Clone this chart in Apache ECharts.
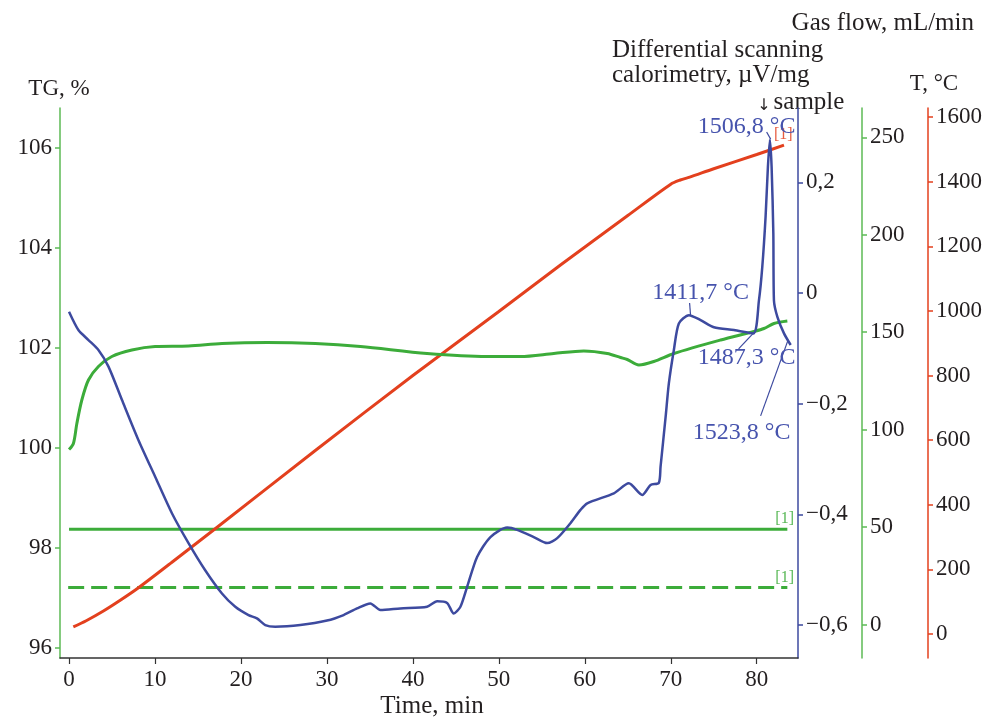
<!DOCTYPE html>
<html><head><meta charset="utf-8">
<script src="https://cdn.jsdelivr.net/npm/echarts@6/dist/echarts.min.js"></script>
<style>html,body{margin:0;padding:0;background:#fff}#c{width:1003px;height:719px}</style>
</head><body><div id="c"></div>
<script>
// ---------- DATA ----------
const timeTicks = [0, 10, 20, 30, 40, 50, 60, 70, 80];
const tgTicks = [96, 98, 100, 102, 104, 106];
const dscTicks = [-0.6, -0.4, -0.2, 0, 0.2];
const gasTicks = [0, 50, 100, 150, 200, 250];
const tempTicks = [0, 200, 400, 600, 800, 1000, 1200, 1400, 1600];

// TG, %
const tgTime = [0, 0.51, 0.91, 1.49, 2.26, 3.42, 4.98, 7.31, 10.02, 13.9, 17.79, 23.03, 28.65, 33.9, 41.65, 48.64, 52.51, 56.39, 59.88, 62.61, 64.16, 64.94, 66.29, 68.03, 70.36, 75.8, 79.67, 80.84, 82.0, 83.56];
const tgValue = [99.96, 100.08, 100.48, 100.95, 101.35, 101.62, 101.82, 101.95, 102.02, 102.03, 102.08, 102.1, 102.08, 102.02, 101.88, 101.82, 101.82, 101.88, 101.93, 101.88, 101.80, 101.76, 101.65, 101.72, 101.88, 102.15, 102.32, 102.38, 102.48, 102.53];

// DSC, µV/mg
const dscTime = [0, 1.09, 2.26, 3.42, 4.59, 6.15, 8.08, 10.02, 11.97, 13.9, 15.84, 17.79, 19.34, 20.88, 21.86, 22.83, 23.99, 26.9, 30.01, 31.94, 33.5, 35.05, 36.22, 38.54, 41.65, 42.82, 43.98, 44.75, 45.53, 46.31, 47.47, 49.02, 50.97, 52.13, 54.06, 55.62, 56.79, 58.33, 59.5, 60.28, 63.38, 65.12, 66.68, 67.65, 68.61, 68.81, 69.4, 69.78, 70.36, 70.94, 72.11, 73.47, 75.02, 77.35, 79.6, 80.26, 80.65, 81.03, 81.3, 81.53, 81.73, 81.93, 82.0, 82.4, 83.17, 83.95];
const dscValue = [-0.034, -0.067, -0.085, -0.103, -0.133, -0.193, -0.266, -0.332, -0.398, -0.452, -0.501, -0.543, -0.567, -0.582, -0.588, -0.600, -0.603, -0.600, -0.592, -0.582, -0.570, -0.561, -0.573, -0.570, -0.567, -0.557, -0.560, -0.579, -0.567, -0.531, -0.477, -0.441, -0.424, -0.428, -0.441, -0.452, -0.443, -0.416, -0.392, -0.380, -0.362, -0.344, -0.365, -0.347, -0.343, -0.314, -0.224, -0.163, -0.103, -0.055, -0.040, -0.049, -0.062, -0.067, -0.073, -0.013, 0.048, 0.138, 0.228, 0.277, 0.228, 0.108, -0.013, -0.043, -0.073, -0.094];

// Temperature, °C
const tempTime = [0.5, 2, 4, 6, 8.08, 11.97, 14.3, 16.93, 28.65, 40, 50, 57.17, 65, 70, 71.1, 72.2, 75, 80, 83.17];
const tempValue = [22, 41, 71, 105, 143, 222, 270, 324, 568, 800, 998, 1142, 1295, 1392, 1405, 1414, 1440, 1484, 1513];

// Gas flow, mL/min (two set-point lines)
const gasSolidTime = [0, 83.56];
const gasSolidValue = [48.9, 48.9];
const gasDashTime = [-0.1, 83.56];
const gasDashValue = [19.0, 19.0];

// Peak annotations (time, DSC) and leader lines
const peakLabels = ['1506,8 °C', '1411,7 °C', '1487,3 °C', '1523,8 °C'];
const peakLabelTime = [78.82, 73.47, 78.82, 78.24];
const peakLabelDsc = [0.300, 0.0, -0.117, -0.253];
const leaderFrom = [[81.15, 0.291], [72.19, -0.018], [79.64, -0.072], [83.6, -0.087]];
const leaderTo = [[81.62, 0.278], [72.3, -0.040], [77.89, -0.101], [80.45, -0.222]];

// ---------- CHART ----------
const FONT = '"Liberation Serif", "DejaVu Serif", serif';
const GREEN = '#3cac3a', GREEN_AX = '#5cba55', BLUE = '#3d4a9f', BLUE_TXT = '#4653ad', RED = '#e3401e', INK = '#231f20';
const zip = (a, b) => a.map((x, i) => [x, b[i]]);
const fmtDsc = v => Math.abs(v) < 1e-9 ? '0' : (v < 0 ? '\u2212' : '') + Math.abs(v).toFixed(1).replace('.', ',');
const fmtPlain = v => String(Math.round(v));

function yAx(opts) {
  return Object.assign({
    type: 'value', splitLine: { show: false },
    axisLine: { show: true, onZero: false, lineStyle: { color: opts.color, width: 1.5 } },
    axisTick: { show: true, length: 5, lineStyle: { color: opts.color, width: 1.5 }, customValues: opts.ticks },
    axisLabel: { color: INK, fontFamily: FONT, fontSize: 23, margin: 8, customValues: opts.ticks, formatter: opts.fmt || fmtPlain }
  }, opts.extra);
}
const endLab = (color, off) => ({ show: true, formatter: '[1]', distance: 0, offset: off, color: color, fontFamily: FONT, fontSize: 16, opacity: 0.85 });

const chart = echarts.init(document.getElementById('c'), null, { renderer: 'canvas' });
const option = {
  animation: false,
  backgroundColor: '#fff',
  grid: { left: 60, right: 205, top: 108, bottom: 61, containLabel: false },
  xAxis: {
    type: 'value', min: -1.05, max: 84.8, splitLine: { show: false },
    axisLine: { onZero: false, lineStyle: { color: '#333', width: 1.5 } },
    axisTick: { length: 6, lineStyle: { color: '#333', width: 1.2 }, customValues: timeTicks },
    axisLabel: { color: INK, fontFamily: FONT, fontSize: 23, margin: 10, customValues: timeTicks, formatter: fmtPlain }
  },
  yAxis: [
    yAx({ color: GREEN_AX, ticks: tgTicks, extra: { position: 'left', min: 95.79, max: 106.79 } }),
    yAx({ color: BLUE, ticks: dscTicks, fmt: fmtDsc, extra: { position: 'right', offset: 0, min: -0.6596, max: 0.3343 } }),
    yAx({ color: GREEN_AX, ticks: gasTicks, extra: { position: 'right', offset: 64, min: -17.2, max: 265.1 } }),
    yAx({ color: RED, ticks: tempTicks, extra: { position: 'right', offset: 130, min: -74.3, max: 1627.9 } })
  ],
  series: [
    {
      name: 'T', type: 'line', yAxisIndex: 3, showSymbol: false, smooth: 0.3, z: 3,
      lineStyle: { color: RED, width: 3 },
      endLabel: endLab(RED, [-10, -10]),
      data: zip(tempTime, tempValue)
    },
    {
      name: 'Gas solid', type: 'line', yAxisIndex: 2, showSymbol: false, z: 2,
      lineStyle: { color: GREEN, width: 3 },
      endLabel: endLab(GREEN, [-12, -10]),
      data: zip(gasSolidTime, gasSolidValue)
    },
    {
      name: 'Gas dashed', type: 'line', yAxisIndex: 2, showSymbol: false, z: 2,
      lineStyle: { color: GREEN, width: 3, type: [16, 7] },
      endLabel: endLab(GREEN, [-12, -10]),
      data: zip(gasDashTime, gasDashValue)
    },
    {
      name: 'TG', type: 'line', yAxisIndex: 0, showSymbol: false, smooth: 0.3, z: 4,
      lineStyle: { color: GREEN, width: 3 },
      data: zip(tgTime, tgValue)
    },
    {
      name: 'DSC', type: 'line', yAxisIndex: 1, showSymbol: false, smooth: 0.25, z: 5,
      lineStyle: { color: BLUE, width: 2.5 },
      data: zip(dscTime, dscValue),
      markLine: {
        silent: true, symbol: ['none', 'none'], animation: false,
        lineStyle: { color: BLUE, width: 1.2, type: 'solid' }, label: { show: false },
        data: leaderFrom.map((f, i) => [{ coord: f }, { coord: leaderTo[i] }])
      },
      markPoint: {
        silent: true, symbol: 'circle', symbolSize: 0, animation: false,
        label: { show: true, position: 'inside', color: BLUE_TXT, fontFamily: FONT, fontSize: 24, formatter: p => p.name },
        data: peakLabels.map((n, i) => ({ name: n, coord: [peakLabelTime[i], peakLabelDsc[i]] }))
      }
    }
  ],
  graphic: [
    { type: 'text', x: 59, y: 89, style: { text: 'TG, %', font: '23px ' + FONT, fill: INK, textAlign: 'center', textVerticalAlign: 'middle' } },
    { type: 'text', x: 432, y: 706, style: { text: 'Time, min', font: '25px ' + FONT, fill: INK, textAlign: 'center', textVerticalAlign: 'middle' } },
    { type: 'text', x: 612, y: 50, style: { text: 'Differential scanning', font: '25px ' + FONT, fill: INK, textAlign: 'left', textVerticalAlign: 'middle' } },
    { type: 'text', x: 612, y: 75, style: { text: 'calorimetry, \u00b5V/mg', font: '25px ' + FONT, fill: INK, textAlign: 'left', textVerticalAlign: 'middle' } },
    { type: 'text', x: 974, y: 23, style: { text: 'Gas flow, mL/min', font: '25px ' + FONT, fill: INK, textAlign: 'right', textVerticalAlign: 'middle' } },
    { type: 'text', x: 934, y: 84, style: { text: 'T, \u00b0C', font: '23px ' + FONT, fill: INK, textAlign: 'center', textVerticalAlign: 'middle' } },
    { type: 'text', x: 809, y: 102, style: { text: 'sample', font: '25px ' + FONT, fill: INK, textAlign: 'center', textVerticalAlign: 'middle' } },
    { type: 'text', x: 764, y: 106, style: { text: '\u2193', font: '16px "DejaVu Sans", sans-serif', fill: INK, textAlign: 'center', textVerticalAlign: 'middle' } }
  ]
};
chart.setOption(option);
</script>
</body></html>
